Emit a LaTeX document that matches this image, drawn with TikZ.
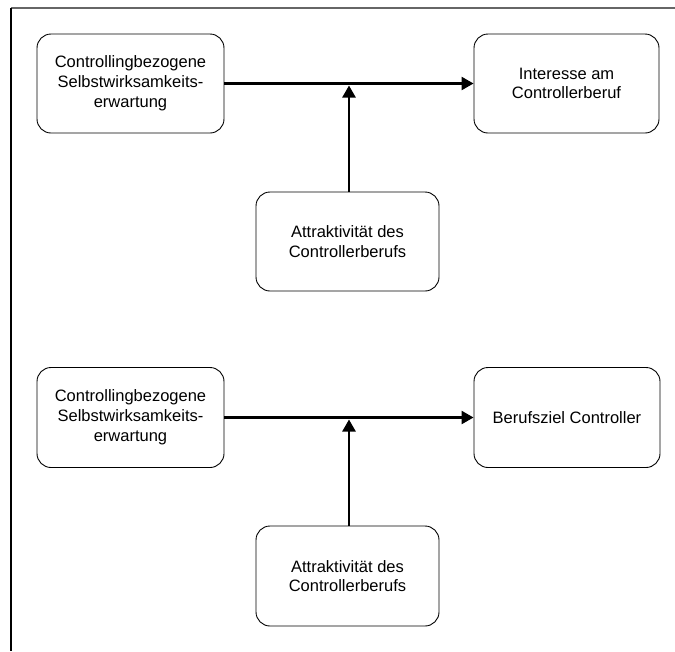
\documentclass[tikz,border=0pt]{standalone}
\usepackage{fontspec}
\setmainfont{Liberation Sans}
\usetikzlibrary{arrows.meta}
\begin{document}
\begin{tikzpicture}[x=1pt,y=-1pt,
  box/.style={draw=black,line width=0.9pt,rounded corners=14pt,align=center,
    font=\fontsize{16.5}{19.8}\selectfont,inner sep=0pt},
  arr/.style={draw=black,line width=2.4pt,-{Triangle[length=12pt,width=13pt]}}]
\useasboundingbox (0,0) rectangle (675,651);
\draw[gray!80!black,line width=1.2pt] (11,8) -- (675,8);
\draw[black,line width=1.2pt] (11,8) -- (11,651);
% group 1
\node[box,minimum width=187pt,minimum height=99pt] (b1) at (130.5,83.5)
  {Controllingbezogene\\Selbstwirksamkeits-\\erwartung};
\node[box,minimum width=185pt,minimum height=99pt] (b2) at (566.5,83.5)
  {Interesse am\\Controllerberuf};
\node[box,minimum width=183pt,minimum height=99pt] (b3) at (347.5,241.5)
  {Attraktivität des\\Controllerberufs};
% group 2
\node[box,minimum width=187pt,minimum height=100pt] (b4) at (130.5,417.5)
  {Controllingbezogene\\Selbstwirksamkeits-\\erwartung};
\node[box,minimum width=186pt,minimum height=100pt] (b5) at (567,417.5)
  {Berufsziel Controller};
\node[box,minimum width=183pt,minimum height=100pt] (b6) at (347.5,576)
  {Attraktivität des\\Controllerberufs};
\coordinate (t1) at (349,85.5);
\coordinate (t2) at (349,419.5);
\draw[arr] (b1.east) -- (b2.west);
\draw[arr] (b3.north -| t1) -- (t1);
\draw[arr] (b4.east) -- (b5.west);
\draw[arr] (b6.north -| t2) -- (t2);
\end{tikzpicture}
\end{document}
